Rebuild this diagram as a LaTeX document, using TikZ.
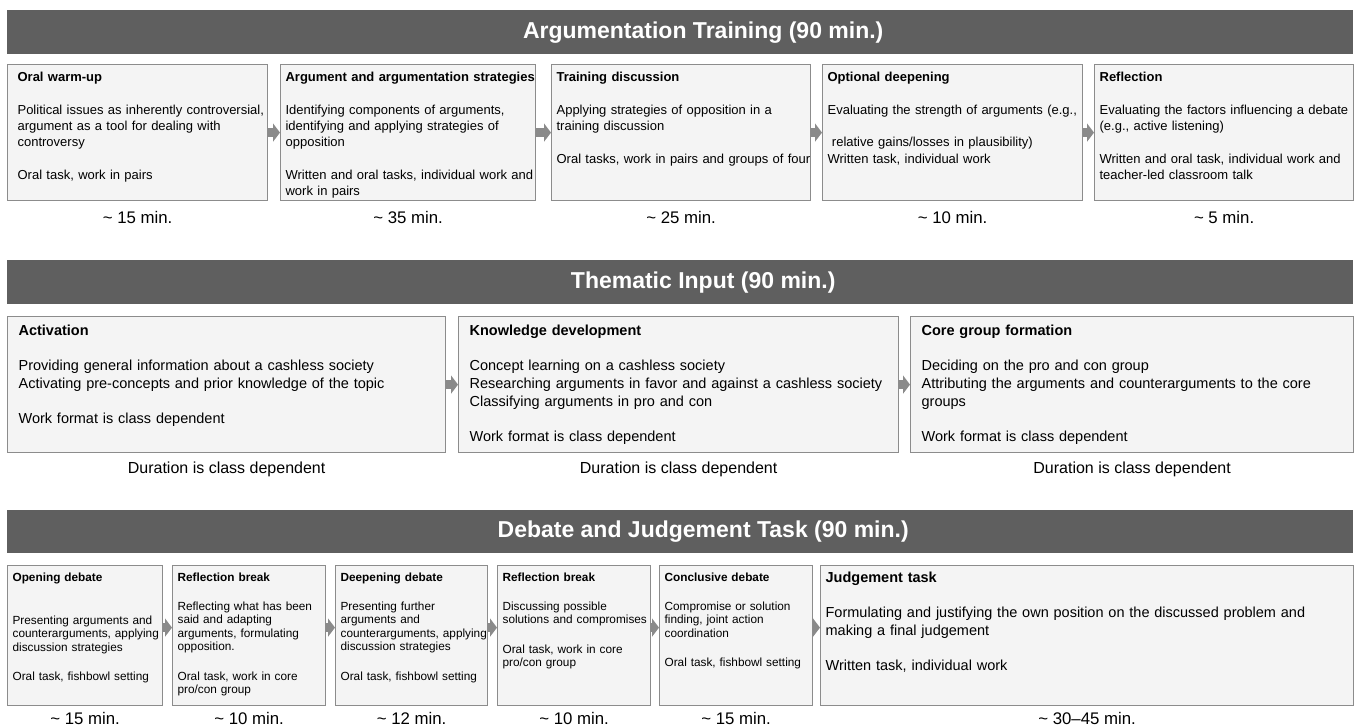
\documentclass[tikz,border=0pt]{standalone}
\usepackage{fontspec}
\setmainfont{Liberation Sans}
\usepackage{tikz}
\usetikzlibrary{arrows.meta,positioning}
\definecolor{banbg}{HTML}{5F5F5F}
\definecolor{boxbg}{HTML}{F4F4F4}
\definecolor{boxln}{HTML}{8C8C8C}
\definecolor{arrbg}{HTML}{8A8A8A}
\hfuzz=20pt

\tikzset{
  banner/.style={fill=banbg, anchor=north west, minimum width=1346pt, minimum height=44pt, inner sep=0pt},
  bantext/.style={text=white, font=\fontsize{23}{27}\selectfont\bfseries},
  stage/.style={draw=boxln, fill=boxbg, line width=1.2pt, anchor=north west, align=left, inner xsep=5pt, inner ysep=0pt,
    execute at begin node={\rightskip=-15pt plus 1fil\hyphenpenalty=10000}},
  rowA/.style={stage, font=\fontsize{13}{16.3}\selectfont, text height=17pt, text depth=119pt},
  rowB/.style={stage, inner xsep=11pt, font=\fontsize{14.5}{17.6}\selectfont, text height=19pt, text depth=117pt},
  rowC/.style={stage, font=\fontsize{11.8}{13.4}\selectfont, text height=15.5pt, text depth=124.5pt},
  dur/.style={inner sep=0pt, font=\fontsize{16.8}{19}\selectfont},
  flow/.style={draw=arrbg, line width=9pt, -{Triangle[length=7pt,width=18pt]}}
}

\begin{document}
\begin{tikzpicture}[x=1pt, y=-1pt]
  \useasboundingbox (0,0) rectangle (1359,727);

  % Argumentation training
  \node[banner] (ban1) at (7,10) {};
  \node[bantext] (ttl1) at ([xshift=23pt]ban1.center) {Argumentation Training (90 min.)};

  \node[rowA, text width=250pt, execute at begin node={\leftskip=5pt\rightskip=-15pt plus 1fil}] (a1) at (7,64) {
    \textbf{Oral warm-up}\\[\baselineskip]
    Political issues as inherently controversial,\\
    argument as a tool for dealing with\\
    controversy\\[\baselineskip]
    Oral task, work in pairs};
  \node[rowA, text width=245pt] (a2) at (280,64) {
    \textbf{Argument and argumentation strategies}\\[\baselineskip]
    Identifying components of arguments,\\
    identifying and applying strategies of\\
    opposition\\[\baselineskip]
    Written and oral tasks, individual work and\\
    work in pairs};
  \node[rowA, text width=249pt] (a3) at (551,64) {
    \textbf{Training discussion}\\[\baselineskip]
    Applying strategies of opposition in a\\
    training discussion\\[\baselineskip]
    Oral tasks, work in pairs and groups of four};
  \node[rowA, text width=250pt] (a4) at (822,64) {
    \textbf{Optional deepening}\\[\baselineskip]
    Evaluating the strength of arguments (e.g.,\\[\baselineskip]
    \ relative gains/losses in plausibility)\\
    Written task, individual work};
  \node[rowA, text width=249pt] (a5) at (1094,64) {
    \textbf{Reflection}\\[\baselineskip]
    Evaluating the factors influencing a debate\\
    (e.g., active listening)\\[\baselineskip]
    Written and oral task, individual work and\\
    teacher-led classroom talk};

  \foreach \i/\t in {1/15,2/35,3/25,4/10,5/5}
    \node[dur] (da\i) at ([yshift=-16pt]a\i.south) {\textasciitilde\ \t\ min.};

  \draw[flow] (a1.east) -- (a2.west);
  \draw[flow] (a2.east) -- (a3.west);
  \draw[flow] (a3.east) -- (a4.west);
  \draw[flow] (a4.east) -- (a5.west);

  % Thematic input
  \node[banner] (ban2) at (7,260) {};
  \node[bantext] (ttl2) at ([xshift=23pt]ban2.center) {Thematic Input (90 min.)};

  \node[rowB, text width=416pt] (b1) at (7,316) {
    \textbf{Activation}\\[\baselineskip]
    Providing general information about a cashless society\\
    Activating pre-concepts and prior knowledge of the topic\\[\baselineskip]
    Work format is class dependent};
  \node[rowB, text width=418pt] (b2) at (458,316) {
    \textbf{Knowledge development}\\[\baselineskip]
    Concept learning on a cashless society\\
    Researching arguments in favor and against a cashless society\\
    Classifying arguments in pro and con\\[\baselineskip]
    Work format is class dependent};
  \node[rowB, text width=421pt] (b3) at (910,316) {
    \textbf{Core group formation}\\[\baselineskip]
    Deciding on the pro and con group\\
    Attributing the arguments and counterarguments to the core\\
    groups\\[\baselineskip]
    Work format is class dependent};

  \foreach \i in {1,2,3}
    \node[dur, font=\fontsize{16}{19}\selectfont] (db\i) at ([yshift=-16pt]b\i.south) {Duration is class dependent};

  \draw[flow] (b1.east) -- (b2.west);
  \draw[flow] (b2.east) -- (b3.west);

  % Debate and judgement task
  \node[banner, minimum height=43pt] (ban3) at (7,510) {};
  \node[bantext] (ttl3) at ([xshift=23pt]ban3.center) {Debate and Judgement Task (90 min.)};

  \node[rowC, text width=145pt] (c1) at (7,565) {
    \textbf{Opening debate}\\[30pt]
    Presenting arguments and\\
    counterarguments, applying\\
    discussion strategies\\[16pt]
    Oral task, fishbowl setting};
  \node[rowC, text width=143pt] (c2) at (172,565) {
    \textbf{Reflection break}\\[16pt]
    Reflecting what has been\\
    said and adapting\\
    arguments, formulating\\
    opposition.\\[16pt]
    Oral task, work in core\\
    pro/con group};
  \node[rowC, text width=142pt] (c3) at (335,565) {
    \textbf{Deepening debate}\\[16pt]
    Presenting further\\
    arguments and\\
    counterarguments, applying\\
    discussion strategies\\[16pt]
    Oral task, fishbowl setting};
  \node[rowC, text width=143pt] (c4) at (497,565) {
    \textbf{Reflection break}\\[16pt]
    Discussing possible\\
    solutions and compromises\\[16pt]
    Oral task, work in core\\
    pro/con group};
  \node[rowC, text width=143pt] (c5) at (659,565) {
    \textbf{Conclusive debate}\\[16pt]
    Compromise or solution\\
    finding, joint action\\
    coordination\\[16pt]
    Oral task, fishbowl setting};
  \node[rowC, text width=523pt, font=\fontsize{14.5}{17.6}\selectfont, text height=17pt, text depth=123pt] (c6) at (820,565) {
    \textbf{Judgement task}\\[\baselineskip]
    Formulating and justifying the own position on the discussed problem and\\
    making a final judgement\\[\baselineskip]
    Written task, individual work};

  \foreach \i/\t in {1/15,2/10,3/12,4/10,5/15,6/30--45}
    \node[dur] (dc\i) at ([yshift=-12pt]c\i.south) {\textasciitilde\ \t\ min.};

  \foreach \i/\j in {1/2,2/3,3/4,4/5,5/6}
    \draw[flow] ([yshift=8pt]c\i.east) -- ([yshift=8pt]c\j.west);
\end{tikzpicture}
\end{document}
